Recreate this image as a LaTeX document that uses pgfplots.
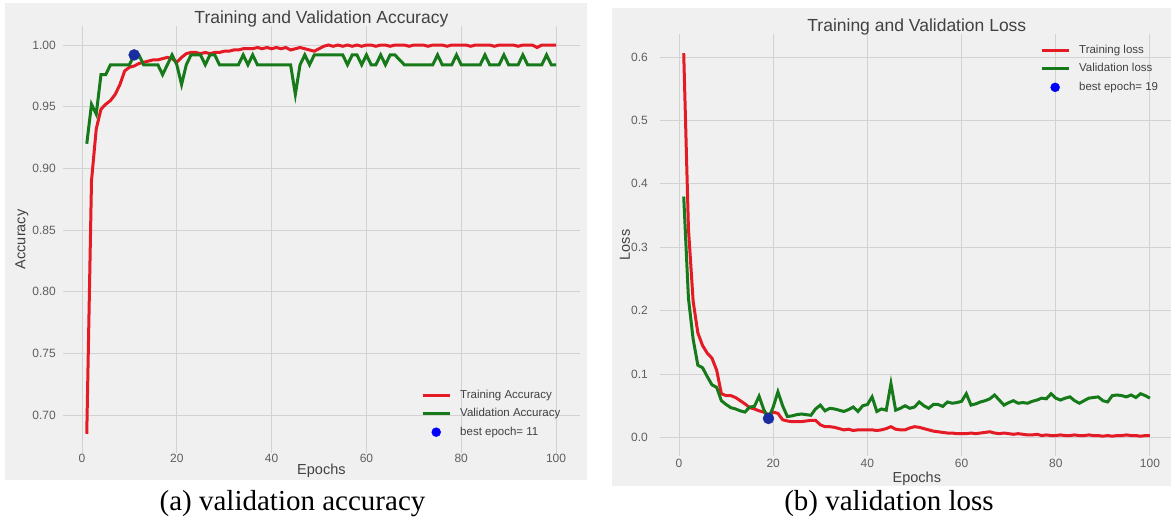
\documentclass[border=0pt]{standalone}
\usepackage{fontspec}
\setmainfont{Liberation Sans}
\newfontfamily\capfont{Liberation Serif}
\usepackage{pgfplots}
\usepackage{pgfplotstable}
\pgfplotsset{compat=1.18}
\definecolor{bgc}{RGB}{240,240,240}
\definecolor{gridc}{RGB}{210,210,210}
\definecolor{tickc}{RGB}{95,95,95}
\definecolor{titc}{RGB}{65,65,65}
\definecolor{lred}{RGB}{228,26,36}
\definecolor{lgreen}{RGB}{22,122,26}
\definecolor{dotc}{RGB}{25,45,160}

\pgfplotstableread{
ep tr va
1 0.685 0.920
2 0.890 0.952
3 0.932 0.944
4 0.948 0.976
5 0.952 0.976
6 0.955 0.984
7 0.960 0.984
8 0.968 0.984
9 0.979 0.984
10 0.982 0.984
11 0.983 0.992
12 0.985 0.992
13 0.986 0.984
14 0.987 0.984
15 0.988 0.984
16 0.988 0.984
17 0.989 0.976
18 0.990 0.984
19 0.989 0.992
20 0.986 0.984
21 0.990 0.968
22 0.993 0.984
23 0.994 0.992
24 0.994 0.992
25 0.993 0.992
26 0.994 0.984
27 0.993 0.992
28 0.994 0.992
29 0.994 0.984
30 0.995 0.984
31 0.995 0.984
32 0.996 0.984
33 0.996 0.984
34 0.997 0.992
35 0.997 0.984
36 0.997 0.992
37 0.998 0.984
38 0.997 0.984
39 0.998 0.984
40 0.997 0.984
41 0.998 0.984
42 0.997 0.984
43 0.998 0.984
44 0.996 0.984
45 0.997 0.960
46 0.998 0.984
47 0.997 0.992
48 0.996 0.984
49 0.995 0.992
50 0.997 0.992
51 0.999 0.992
52 1.000 0.992
53 0.999 0.992
54 1.000 0.992
55 0.999 0.992
56 1.000 0.984
57 0.999 0.992
58 1.000 0.992
59 0.999 0.984
60 1.000 0.992
61 1.000 0.984
62 0.999 0.984
63 1.000 0.992
64 1.000 0.984
65 0.999 0.992
66 1.000 0.992
67 1.000 0.988
68 1.000 0.984
69 0.999 0.984
70 1.000 0.984
71 1.000 0.984
72 1.000 0.984
73 0.999 0.984
74 1.000 0.984
75 1.000 0.992
76 1.000 0.984
77 0.999 0.984
78 1.000 0.984
79 1.000 0.992
80 1.000 0.984
81 1.000 0.984
82 0.999 0.984
83 1.000 0.984
84 1.000 0.984
85 1.000 0.992
86 1.000 0.984
87 0.999 0.984
88 1.000 0.984
89 1.000 0.992
90 1.000 0.984
91 1.000 0.984
92 0.999 0.984
93 1.000 0.992
94 1.000 0.984
95 1.000 0.984
96 0.998 0.984
97 1.000 0.984
98 1.000 0.992
99 1.000 0.984
100 1.000 0.984
}\acc

\pgfplotstableread{
ep tr va
1 0.606 0.380
2 0.330 0.220
3 0.215 0.155
4 0.165 0.114
5 0.145 0.110
6 0.133 0.096
7 0.125 0.083
8 0.106 0.079
9 0.069 0.058
10 0.066 0.052
11 0.066 0.047
12 0.063 0.045
13 0.058 0.042
14 0.053 0.040
15 0.047 0.048
16 0.045 0.049
17 0.042 0.065
18 0.040 0.044
19 0.036 0.030
20 0.040 0.048
21 0.038 0.072
22 0.028 0.050
23 0.026 0.033
24 0.025 0.034
25 0.025 0.036
26 0.025 0.037
27 0.026 0.036
28 0.027 0.035
29 0.027 0.045
30 0.020 0.051
31 0.017 0.042
32 0.017 0.046
33 0.016 0.045
34 0.014 0.043
35 0.012 0.041
36 0.013 0.044
37 0.011 0.048
38 0.012 0.041
39 0.012 0.050
40 0.012 0.052
41 0.012 0.064
42 0.011 0.041
43 0.012 0.045
44 0.014 0.043
45 0.017 0.085
46 0.013 0.043
47 0.012 0.046
48 0.012 0.050
49 0.015 0.046
50 0.017 0.048
51 0.016 0.056
52 0.014 0.050
53 0.012 0.046
54 0.010 0.052
55 0.009 0.052
56 0.008 0.049
57 0.007 0.056
58 0.007 0.054
59 0.006 0.055
60 0.006 0.057
61 0.006 0.069
62 0.007 0.051
63 0.006 0.053
64 0.007 0.056
65 0.008 0.058
66 0.009 0.061
67 0.007 0.067
68 0.006 0.059
69 0.007 0.051
70 0.006 0.055
71 0.005 0.058
72 0.006 0.054
73 0.005 0.055
74 0.004 0.054
75 0.004 0.057
76 0.005 0.059
77 0.003 0.062
78 0.004 0.061
79 0.003 0.069
80 0.003 0.062
81 0.004 0.059
82 0.003 0.062
83 0.003 0.064
84 0.004 0.058
85 0.003 0.054
86 0.003 0.058
87 0.004 0.062
88 0.003 0.063
89 0.003 0.064
90 0.002 0.058
91 0.003 0.056
92 0.002 0.066
93 0.003 0.067
94 0.003 0.066
95 0.004 0.064
96 0.003 0.067
97 0.003 0.063
98 0.002 0.069
99 0.003 0.066
100 0.003 0.062
}\loss

\pgfplotsset{
 fte/.style={
  scale only axis,
  anchor=south west,
  xmin=-3.95, xmax=104.95,
  xtick={0,20,40,60,80,100},
  axis line style={draw=none},
  major tick length=0pt,
  grid=major,
  grid style={gridc, line width=1pt},
  tick label style={font=\fontsize{12}{12}\selectfont, text=tickc},
  /pgf/number format/assume math mode=true,
  title style={font=\fontsize{17.5}{17.5}\selectfont, text=titc, at={(0.5,1)}, anchor=base},
  legend style={draw=none, fill=none, font=\fontsize{11.5}{11.5}\selectfont, text=titc,
     inner sep=0pt, cells={anchor=west},
     nodes={inner sep=0pt, text height=8.5pt, text depth=2.5pt},
     /tikz/every odd column/.append style={column sep=9pt}},
  legend image code/.code={\draw[mark repeat=2,mark phase=2,##1] plot coordinates {(0pt,0pt)(13.5pt,0pt)(27pt,0pt)};},
 }
}

\begin{document}
\begin{tikzpicture}
\path[use as bounding box] (0,0) rectangle (1171pt,528pt);
\clip (0,0) rectangle (1171pt,528pt);
\fill[bgc] (5pt,48pt) rectangle (587pt,525pt);
\fill[bgc] (612pt,42pt) rectangle (1171pt,520pt);

\begin{axis}[fte,
  at={(63.3pt,74.8pt)}, width=516.2pt, height=427.6pt,
  ymin=0.66925, ymax=1.01575,
  ytick={0.7,0.75,0.8,0.85,0.9,0.95,1},
  yticklabel style={xshift=-4pt, /pgf/number format/fixed, /pgf/number format/fixed zerofill, /pgf/number format/precision=2},
  xticklabel style={yshift=3pt},
  title={Training and Validation Accuracy},
  title style={yshift=-4pt},
  xlabel={Epochs}, ylabel={Accuracy},
  every axis x label/.style={at={(axis description cs:0.5,0)}, anchor=center, yshift=-17.8pt, font=\fontsize{14.5}{14.5}\selectfont, text=titc},
  every axis y label/.style={at={(axis description cs:-0.080,0.5)}, anchor=center, rotate=90, font=\fontsize{14.5}{14.5}\selectfont, text=titc},
  legend style={at={(axis description cs:0.693,0.149)}, anchor=north west, row sep=7.5pt},
]
\addplot[lred, line width=3pt] table[x=ep, y=tr] {\acc};
\addlegendentry{Training Accuracy}
\addplot[lgreen, line width=3pt] table[x=ep, y=va] {\acc};
\addlegendentry{Validation Accuracy}
\addplot[only marks, mark=*, mark size=5.5pt, dotc, forget plot] coordinates {(11,0.992)};
\addlegendimage{only marks, mark=*, mark size=4.5pt, blue}
\addlegendentry{best epoch= 11}
\end{axis}

\begin{axis}[fte,
  at={(660.4pt,72.4pt)}, width=512.9pt, height=421.5pt,
  ymin=-0.0286, ymax=0.6362,
  ytick={0,0.1,0.2,0.3,0.4,0.5,0.6},
  yticklabel style={xshift=-9pt, /pgf/number format/fixed, /pgf/number format/fixed zerofill, /pgf/number format/precision=1},
  title={Training and Validation Loss},
  title style={yshift=-3pt},
  xlabel={Epochs}, ylabel={Loss},
  every axis x label/.style={at={(axis description cs:0.5,0)}, anchor=center, yshift=-23.4pt, font=\fontsize{14.5}{14.5}\selectfont, text=titc},
  every axis y label/.style={at={(axis description cs:-0.069,0.5)}, anchor=center, rotate=90, font=\fontsize{14.5}{14.5}\selectfont, text=titc},
  legend style={at={(axis description cs:0.740,0.975)}, anchor=north west, row sep=7.5pt},
]
\addplot[lred, line width=3pt] table[x=ep, y=tr] {\loss};
\addlegendentry{Training loss}
\addplot[lgreen, line width=3pt] table[x=ep, y=va] {\loss};
\addlegendentry{Validation loss}
\addplot[only marks, mark=*, mark size=5.5pt, dotc, forget plot] coordinates {(19,0.030)};
\addlegendimage{only marks, mark=*, mark size=4.5pt, blue}
\addlegendentry{best epoch= 19}
\end{axis}

\node[font=\capfont\fontsize{29}{29}\selectfont, anchor=base] at (292.5pt,17pt) {(a) validation accuracy};
\node[font=\capfont\fontsize{29}{29}\selectfont, anchor=base] at (889pt,17pt) {(b) validation loss};
\end{tikzpicture}
\end{document}
